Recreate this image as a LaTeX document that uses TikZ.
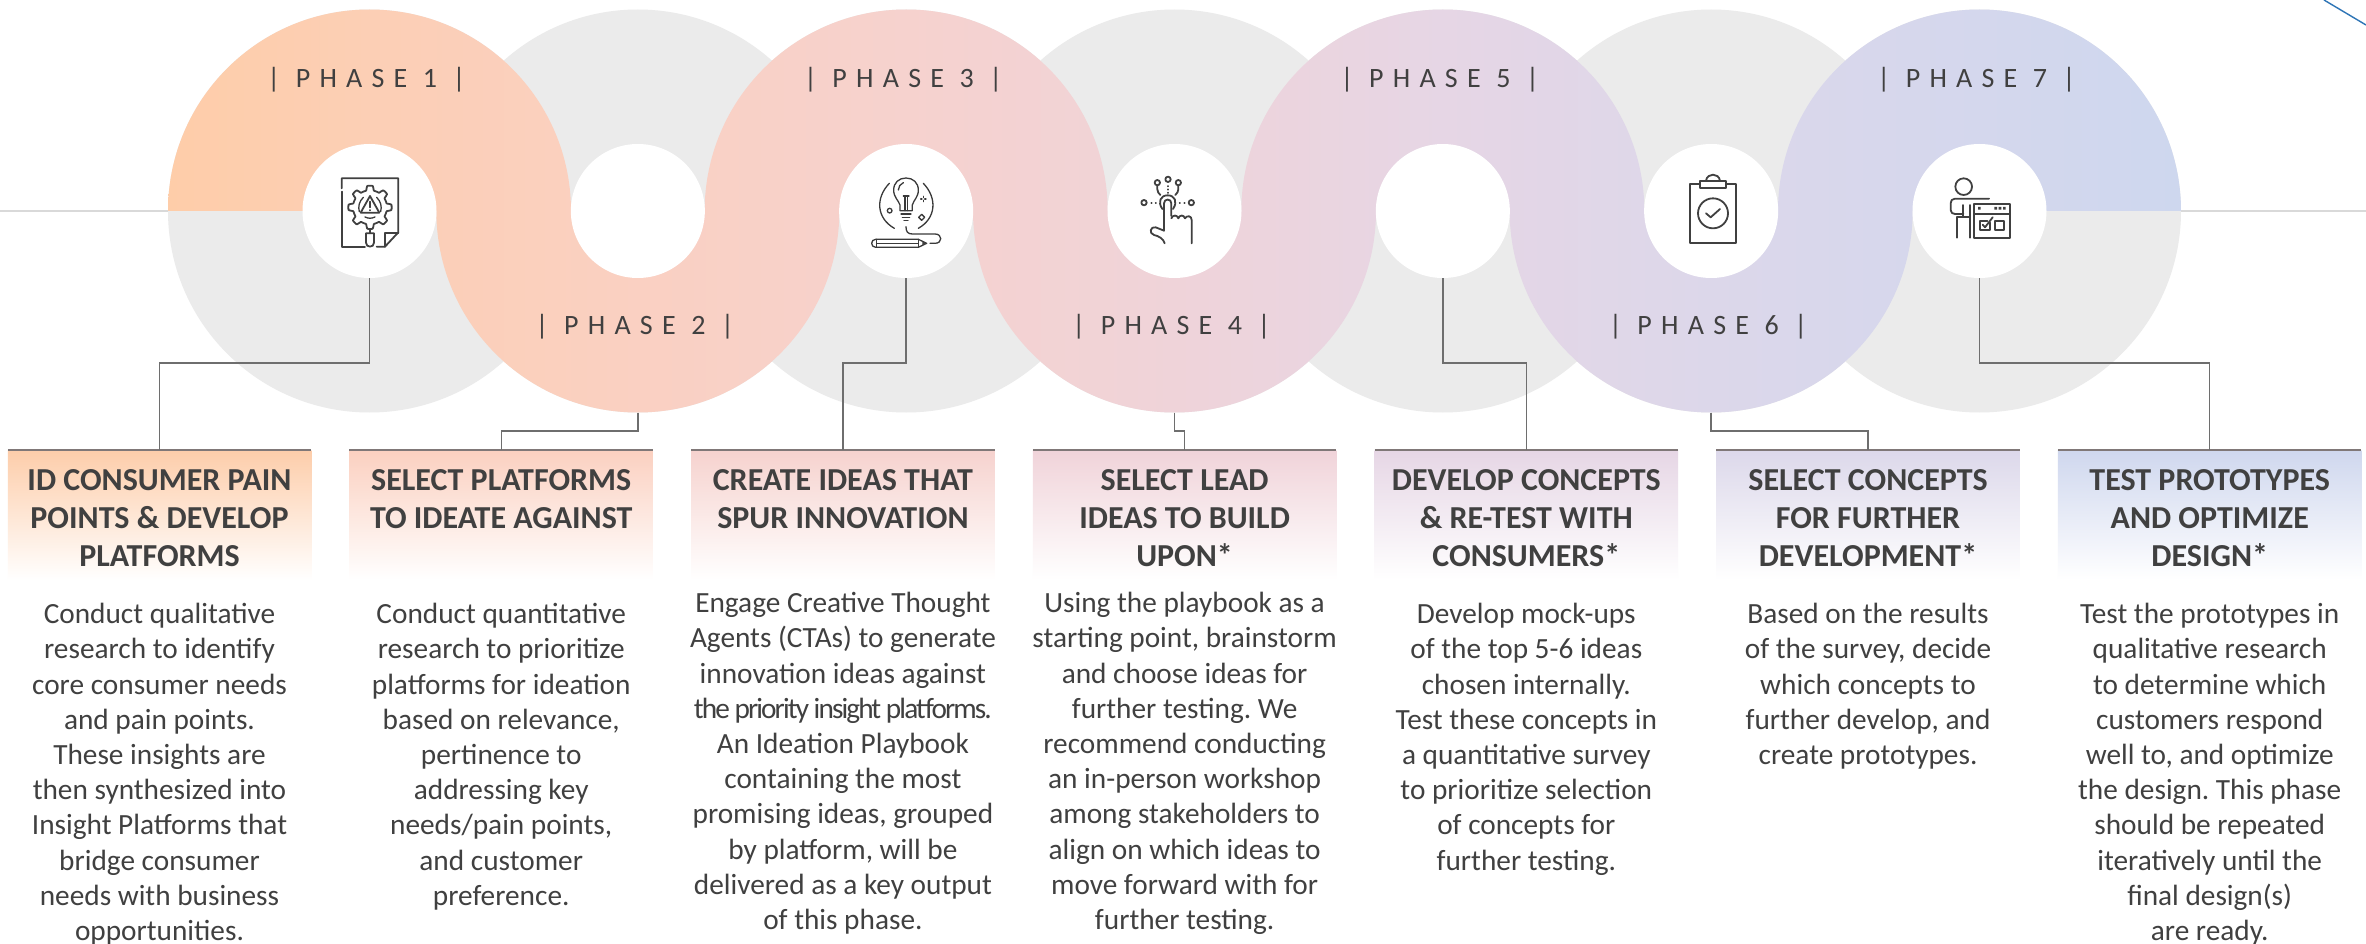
\documentclass[tikz,border=0pt]{standalone}
\usepackage{fontspec}
\setmainfont{Carlito}
\newfontfamily\phasefont[LetterSpace=33]{Carlito}
\newfontfamily\tightfont[LetterSpace=-6.5]{Carlito}
\frenchspacing
\definecolor{ink}{HTML}{404040}
\definecolor{ringgray}{HTML}{EBEBEB}
\definecolor{axisgray}{HTML}{D9D9D9}
\definecolor{linkgray}{HTML}{6E6E6E}
\definecolor{rulegray}{HTML}{807878}
\definecolor{cornerblue}{HTML}{2E75B6}
\definecolor{b0}{HTML}{FECDA9}
\definecolor{b1}{HTML}{FCCFB5}
\definecolor{b2}{HTML}{FAD0C2}
\definecolor{b3}{HTML}{F6D2CE}
\definecolor{b4}{HTML}{EFD3D9}
\definecolor{b5}{HTML}{E6D6E5}
\definecolor{b6}{HTML}{DCD7EA}
\definecolor{b7}{HTML}{D4D7ED}
\definecolor{b8}{HTML}{CED7EE}
\definecolor{hc1}{HTML}{FDCDAA}
\definecolor{hc2}{HTML}{FBD0C0}
\definecolor{hc3}{HTML}{F6D2CE}
\definecolor{hc4}{HTML}{F0D3D9}
\definecolor{hc5}{HTML}{E6D6E5}
\definecolor{hc6}{HTML}{DCD8EA}
\definecolor{hc7}{HTML}{CFD7EE}
\pgfdeclarehorizontalshading{bandshade}{100bp}{color(0bp)=(b0);color(25bp)=(b0);color(30bp)=(b1);color(36.67bp)=(b2);color(43.33bp)=(b3);color(50bp)=(b4);color(56.67bp)=(b5);color(63.33bp)=(b6);color(70bp)=(b7);color(75bp)=(b8);color(100bp)=(b8)}
\tikzset{
  ringnode/.style={circle,fill=ringgray,draw=none,inner sep=0pt,outer sep=0pt,minimum size=403pt},
  holenode/.style={circle,fill=white,draw=none,inner sep=0pt,outer sep=0pt,minimum size=134pt},
  headbox/.style={rectangle,draw=none,inner sep=0pt,outer sep=0pt,minimum width=303.5pt,minimum height=130pt,anchor=north,top color=#1,bottom color=white},
  headrule/.style={draw=rulegray,line width=2pt},
  link/.style={draw=linkgray,line width=1.4pt},
  phaselabel/.style={text=ink,inner sep=0pt,anchor=base,font=\phasefont\fontsize{28}{30}\selectfont},
  headtext/.style={text=ink,inner sep=0pt,anchor=north,align=center,font=\bfseries\fontsize{32}{38}\selectfont},
  bodytext/.style={text=ink,inner sep=0pt,anchor=north,align=center,font=\fontsize{29.3}{35.2}\selectfont},
  icon/.style={draw=ink,line width=1.8pt,line cap=round,line join=round,fill=none},
  iconfine/.style={draw=ink!90!black,line width=1.3pt,line cap=round,line join=round,fill=none}
}
\begin{document}
\begin{tikzpicture}[x=1pt,y=-1pt]
\useasboundingbox (0,0) rectangle (2366,944);
\fill[white] (0,0) rectangle (2366,944);
% grey rings
\foreach \i in {1,...,7}{
  \pgfmathsetmacro{\cx}{369.5+268.33*(\i-1)}
  \node[ringnode] (r\i) at (\cx,211) {};
}
% axis line and corner stroke
\coordinate (axisL) at (0,211);
\coordinate (axisR) at (2366,211);
\coordinate (cornerA) at (2324,0);
\coordinate (cornerB) at (2366,25);
\draw[axisgray,line width=1.6pt] (axisL) -- (r1.west);
\draw[axisgray,line width=1.6pt] (r7.east) -- (axisR);
\draw[cornerblue,line width=1.4pt] (cornerA) -- (cornerB);
% coloured serpentine band
\begin{scope}
\clip
  (r1.west) arc[start angle=180,end angle=0,radius=201.5pt] -- cycle
  (r2.west) arc[start angle=180,end angle=360,radius=201.5pt] -- cycle
  (r3.west) arc[start angle=180,end angle=0,radius=201.5pt] -- cycle
  (r4.west) arc[start angle=180,end angle=360,radius=201.5pt] -- cycle
  (r5.west) arc[start angle=180,end angle=0,radius=201.5pt] -- cycle
  (r6.west) arc[start angle=180,end angle=360,radius=201.5pt] -- cycle
  (r7.west) arc[start angle=180,end angle=0,radius=201.5pt] -- cycle;
\path[shading=bandshade] (168,0) rectangle (2181,420);
\end{scope}
% white holes
\foreach \i in {1,...,7}{
  \node[holenode] (w\i) at (r\i) {};
}
% phase labels
\foreach \i in {1,3,5,7}{
  \node[phaselabel] (p\i) at ([xshift=-3pt]r\i.center |- 0,88) {| PHASE \i\ |};
}
\foreach \i in {2,4,6}{
  \node[phaselabel] (p\i) at ([xshift=-3pt]r\i.center |- 0,334) {| PHASE \i\ |};
}
% header boxes
\foreach \i in {1,...,7}{
  \pgfmathsetmacro{\hx}{159.5+341.7*(\i-1)}
  \node[headbox=hc\i] (h\i) at (\hx,450) {};
  \draw[headrule] (h\i.north west) -- (h\i.north east);
}
% connectors
\draw[link] (w1.south) -- (w1.south |- 0,363) -- (h1.north |- 0,363) -- (h1.north);
\draw[link] (r2.south) -- (r2.south |- 0,431) -- (h2.north |- 0,431) -- (h2.north);
\draw[link] (w3.south) -- (w3.south |- 0,363) -- (h3.north |- 0,363) -- (h3.north);
\draw[link] (r4.south) -- (r4.south |- 0,431) -- (h4.north |- 0,431) -- (h4.north);
\draw[link] (w5.south) -- (w5.south |- 0,363) -- (h5.north |- 0,363) -- (h5.north);
\draw[link] (r6.south) -- (r6.south |- 0,431) -- (h6.north |- 0,431) -- (h6.north);
\draw[link] (w7.south) -- (w7.south |- 0,363) -- (h7.north |- 0,363) -- (h7.north);
% header texts
\node[headtext] (t1) at (h1.north |- 0,463.9) {\strut ID CONSUMER PAIN\\POINTS \& DEVELOP\\PLATFORMS};
\node[headtext] (t2) at (h2.north |- 0,463.9) {\strut SELECT PLATFORMS\\TO IDEATE AGAINST};
\node[headtext] (t3) at (h3.north |- 0,463.9) {\strut CREATE IDEAS THAT\\SPUR INNOVATION};
\node[headtext] (t4) at (h4.north |- 0,463.9) {\strut SELECT LEAD\\IDEAS TO BUILD\\UPON*};
\node[headtext] (t5) at (h5.north |- 0,463.9) {\strut DEVELOP CONCEPTS\\\& RE-TEST WITH\\CONSUMERS*};
\node[headtext] (t6) at (h6.north |- 0,463.9) {\strut SELECT CONCEPTS\\FOR FURTHER\\DEVELOPMENT*};
\node[headtext] (t7) at (h7.north |- 0,463.9) {\strut TEST PROTOTYPES\\AND OPTIMIZE\\DESIGN*};
% body texts
\node[bodytext] (d1) at (h1.north |- 0,598.9) {\strut Conduct qualitative\\research to identify\\core consumer needs\\and pain points.\\These insights are\\then synthesized into\\Insight Platforms that\\bridge consumer\\needs with business\\opportunities.};
\node[bodytext] (d2) at (h2.north |- 0,598.9) {\strut Conduct quantitative\\research to prioritize\\platforms for ideation\\based on relevance,\\pertinence to\\addressing key\\needs/pain points,\\and customer\\preference.};
\node[bodytext] (d3) at (h3.north |- 0,587.9) {\strut Engage Creative Thought\\Agents (CTAs) to generate\\innovation ideas against\\{\tightfont the priority insight platforms.}\\An Ideation Playbook\\containing the most\\promising ideas, grouped\\by platform, will be\\delivered as a key output\\of this phase.};
\node[bodytext] (d4) at (h4.north |- 0,587.9) {\strut Using the playbook as a\\starting point, brainstorm\\and choose ideas for\\further testing. We\\recommend conducting\\an in-person workshop\\among stakeholders to\\align on which ideas to\\move forward with for\\further testing.};
\node[bodytext] (d5) at (h5.north |- 0,598.9) {\strut Develop mock-ups\\of the top 5-6 ideas\\chosen internally.\\Test these concepts in\\a quantitative survey\\to prioritize selection\\of concepts for\\further testing.};
\node[bodytext] (d6) at (h6.north |- 0,598.9) {\strut Based on the results\\of the survey, decide\\which concepts to\\further develop, and\\create prototypes.};
\node[bodytext] (d7) at (h7.north |- 0,598.9) {\strut Test the prototypes in\\qualitative research\\to determine which\\customers respond\\well to, and optimize\\the design. This phase\\should be repeated\\iteratively until the\\final design(s)\\are ready.};
% icon 1: gear on document
\begin{scope}[shift={(290,120)},x=.3333pt,y=-.3333pt]
\draw[icon] (155,215) -- (155,380) -- (225,380);
\draw[icon] (155,205) -- (155,175) -- (325,175) -- (325,337) -- (285,380) -- (260,380);
\draw[icon] (285,380) -- (285,338) -- (325,338);
\draw[icon] plot[samples=145,domain=0:360,variable=\t] ({240+(51+14*max(0,min(1,1.3*cos(8*\t)+.3)))*cos(\t)},{262+(51+14*max(0,min(1,1.3*cos(8*\t)+.3)))*sin(\t)}) -- cycle;
\draw[icon] (240,228) -- (212,278) -- (268,278) -- cycle;
\draw[icon] (240,245) -- (240,262) (240,270) -- (240,271);
\draw[iconfine] (220,232) .. controls (207,245) and (204,260) .. (208,275);
\draw[iconfine] (260,232) .. controls (273,245) and (276,260) .. (272,275);
\draw[iconfine] (225,291) .. controls (235,296) and (245,296) .. (255,291);
\draw[icon] (240,327) -- (240,340);
\draw[icon] (228,340) -- (252,340) -- (252,368) .. controls (252,384) and (228,384) .. (228,368) -- cycle;
\end{scope}
% icon 3: bulb and pencil
\begin{scope}[shift={(835,140)},x=.3333pt,y=-.3333pt]
\draw[iconfine] (195,212) -- (195,195) .. controls (190,180) and (176,172) .. (176,150) .. controls (176,128) and (192,114) .. (213,114) .. controls (234,114) and (250,128) .. (250,150) .. controls (250,172) and (236,180) .. (232,195) -- (232,212) -- cycle;
\draw[iconfine] (190,150) .. controls (190,140) and (196,132) .. (205,128);
\draw[iconfine] (205,168) -- (222,168) (210,168) -- (210,212) (218,168) -- (218,212);
\draw[iconfine] (198,222) -- (228,222) (202,232) -- (224,232) (207,242) -- (219,242);
\draw[iconfine] (163,130) .. controls (120,175) and (125,235) .. (178,265);
\draw[iconfine] (265,130) .. controls (308,175) and (303,235) .. (250,265);
\draw[iconfine] (164,212) circle[radius=7];
\draw[iconfine] (260,223) -- (269,232) -- (260,241) -- (251,232) -- cycle;
\draw[iconfine] (265,169) -- (265,173) (265,181) -- (265,185) (257,177) -- (261,177) (269,177) -- (273,177);
\draw[iconfine] (213,260) .. controls (213,275) and (218,282) .. (232,282) -- (300,282) .. controls (323,282) and (323,310) .. (300,310) -- (285,310);
\draw[iconfine] (250,298) -- (122,298) .. controls (106,298) and (106,322) .. (122,322) -- (250,322) -- (275,310) -- cycle;
\draw[iconfine] (125,298) -- (125,322) (125,310) -- (250,310) (250,298) -- (250,322);
\fill[ink] (262,304) -- (275,310) -- (262,316) -- cycle;
\end{scope}
% icon 4: touching hand
\begin{scope}[shift={(1090,140)},x=.3333pt,y=-.3333pt]
\draw[icon] (202,128) circle[radius=8] (234,118) circle[radius=8] (265,128) circle[radius=8] (162,188) circle[radius=8] (304,188) circle[radius=8];
\draw[icon] (202,137) -- (202,148) .. controls (202,155) and (206,160) .. (211,165);
\draw[icon] (265,137) -- (265,148) .. controls (265,155) and (261,160) .. (256,165);
\draw[icon] (234,138) -- (234,139) (234,148) -- (234,149) (234,158) -- (234,159);
\draw[icon] (184,188) -- (185,188) (197,188) -- (198,188) (269,188) -- (270,188) (283,188) -- (284,188);
\draw[icon] (217,207) .. controls (202,185) and (212,166) .. (233,166) .. controls (254,166) and (264,185) .. (249,207);
\draw[icon] (222,272) -- (222,190) .. controls (222,175) and (244,175) .. (244,190) -- (244,228);
\draw[icon] (244,235) .. controls (248,224) and (262,224) .. (265,235) .. controls (268,224) and (282,224) .. (285,235) .. controls (290,226) and (305,226) .. (305,240) -- (305,310);
\draw[icon] (222,272) -- (197,262) .. controls (182,258) and (175,280) .. (192,285) .. controls (205,288) and (220,295) .. (224,310);
\end{scope}
% icon 6: clipboard
\begin{scope}[shift={(1650,140)},x=.3333pt,y=-.3333pt]
\draw[icon] (150,132) -- (120,132) -- (120,308) -- (258,308) -- (258,132) -- (228,132);
\draw[icon] (150,122) rectangle (228,145);
\draw[icon] (168,122) .. controls (172,98) and (206,98) .. (210,122);
\draw[icon] (189,220) circle[radius=45];
\draw[icon] (168,220) -- (182,232) -- (210,207);
\end{scope}
% icon 7: person at a screen
\begin{scope}[shift={(1910,140)},x=.3333pt,y=-.3333pt]
\draw[icon] (161,140) circle[radius=25];
\draw[icon] (237,176) -- (135,176) .. controls (126,176) and (122,182) .. (122,190) -- (122,210) .. controls (122,218) and (128,222) .. (135,222) -- (160,222);
\draw[icon] (160,195) -- (160,232) -- (142,232) -- (142,293);
\draw[icon] (160,232) -- (180,232);
\draw[icon] (180,195) -- (180,293);
\draw[icon] (192,192) rectangle (300,293);
\draw[icon] (192,222) -- (300,222);
\fill[ink] (204,201) rectangle (212,209) (253,201) rectangle (261,209) (266,201) rectangle (274,209) (279,201) rectangle (287,209);
\draw[icon] (240,248) -- (240,270) -- (210,270) -- (210,242) -- (232,242);
\draw[icon] (218,254) -- (225,262) -- (248,232);
\draw[icon] (255,242) rectangle (282,270);
\end{scope}
\end{tikzpicture}
\end{document}
